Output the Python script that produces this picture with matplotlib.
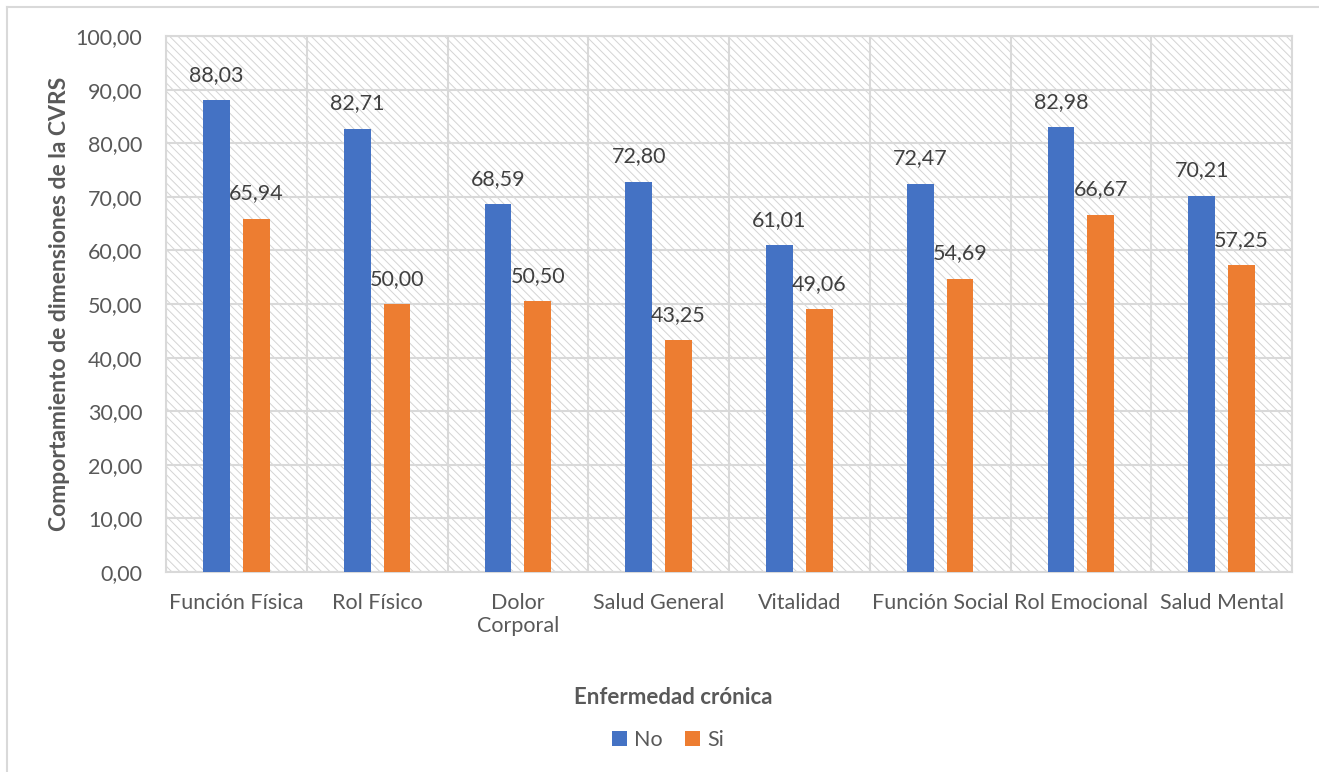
import matplotlib.pyplot as plt
from matplotlib.patches import Rectangle
from matplotlib.lines import Line2D
import numpy as np

# datos
categorias = ['Función Física', 'Rol Físico', 'Dolor\nCorporal', 'Salud General',
              'Vitalidad', 'Función Social', 'Rol Emocional', 'Salud Mental']
no_vals = [88.03, 82.71, 68.59, 72.80, 61.01, 72.47, 82.98, 70.21]
si_vals = [65.94, 50.00, 50.50, 43.25, 49.06, 54.69, 66.67, 57.25]
series = ['No', 'Si']
colores = ['#4472C4', '#ED7D31']

plt.rcParams['font.family'] = ['Lato', 'DejaVu Sans']
plt.rcParams['hatch.linewidth'] = 0.7
gris = '#595959'

fig = plt.figure(figsize=(13.19, 7.72), dpi=100)
W, H = 1319, 772
ax = fig.add_axes([166 / W, 1 - 572 / H, (1292 - 166) / W, (572 - 36) / H])

# fondo rayado
ax.add_patch(Rectangle((0, 0), 1, 1, transform=ax.transAxes, facecolor='white',
                       edgecolor='#d4d4d4', hatch='\\\\\\\\', linewidth=0, zorder=0))

x = np.arange(len(categorias)) + 0.5
ancho = 0.19
desp = 0.142
b1 = ax.bar(x - desp, no_vals, ancho, color=colores[0], label=series[0], zorder=3)
b2 = ax.bar(x + desp, si_vals, ancho, color=colores[1], label=series[1], zorder=3)

for barras, vals in [(b1, no_vals), (b2, si_vals)]:
    for b, v in zip(barras, vals):
        ax.annotate(f'{v:.2f}'.replace('.', ','), (b.get_x() + b.get_width() / 2, v),
                    xytext=(0, 11), textcoords='offset points', ha='center', va='bottom',
                    fontsize=15.5, color='#404040', zorder=4)

ax.set_xlim(0, len(categorias))
ax.set_ylim(0, 100)
ax.set_yticks(np.arange(0, 101, 10))
ax.set_yticklabels([f'{v:.2f}'.replace('.', ',') for v in np.arange(0, 101, 10)])
ax.set_xticks(np.arange(len(categorias) + 1), minor=False)
ax.set_xticklabels([])
ax.set_xticks(x, minor=True)
ax.set_xticklabels(categorias, minor=True)
ax.tick_params(axis='x', which='both', length=0)
ax.tick_params(axis='x', which='minor', labelsize=15.5, labelcolor=gris, pad=15)
ax.tick_params(axis='y', length=0, labelsize=15.5, labelcolor=gris, pad=17)
ax.grid(True, which='major', color='#d9d9d9', linewidth=1.5, zorder=1)
ax.set_axisbelow(True)
for s in ax.spines.values():
    s.set_color('#d9d9d9')
    s.set_linewidth(1.5)

ax.set_ylabel('Comportamiento de dimensiones de la CVRS', fontsize=16.5, fontweight='bold',
              color=gris, labelpad=4)

fig.text(673 / W, 1 - 698 / H, 'Enfermedad crónica', ha='center', va='center',
         fontsize=16, fontweight='bold', color=gris)
fig.legend(handles=[b1, b2], labels=series, loc='center', bbox_to_anchor=(668 / W, 1 - 740 / H),
           ncol=2, frameon=False, fontsize=15.5, labelcolor=gris, handlelength=0.7,
           handleheight=0.7, handletextpad=0.35, columnspacing=1.0)

# borde exterior
fig.add_artist(Line2D([7 / W, 7 / W], [0, 1 - 7 / H], color='#d9d9d9', linewidth=1.5))
fig.add_artist(Line2D([7 / W, 1], [1 - 7 / H, 1 - 7 / H], color='#d9d9d9', linewidth=1.5))

fig.savefig('out.png', dpi=100, facecolor='white')
